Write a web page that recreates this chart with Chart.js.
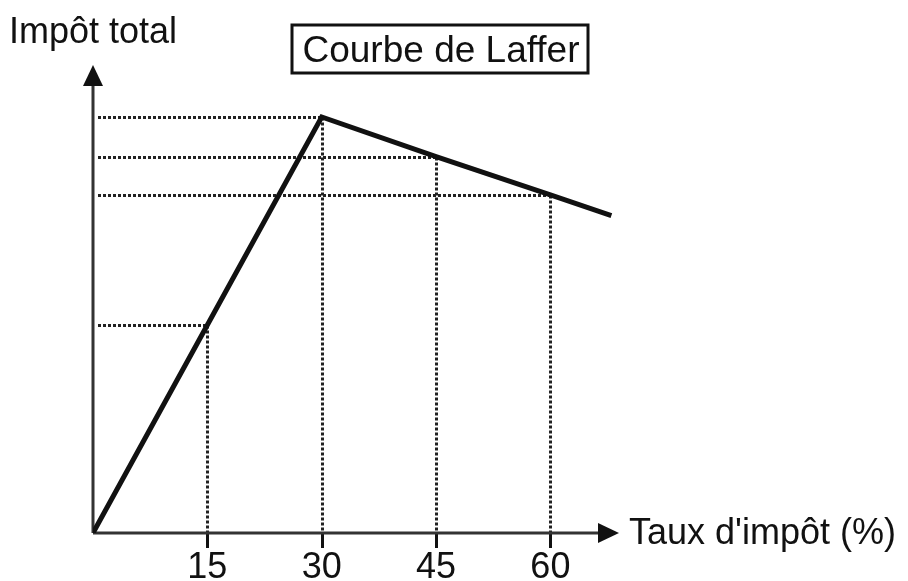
<!DOCTYPE html>
<html>
<head>
<meta charset="utf-8">
<script src="https://cdn.jsdelivr.net/npm/chart.js@4"></script>
<style>
  body { margin: 0; background: #fff; }
  #laffer { display: block; }
</style>
</head>
<body>
<canvas id="laffer" width="908" height="581"></canvas>
<script>
// donnees de la courbe
var tauxImpot = [0, 15, 30, 45, 60, 68];
var impotTotal = [0, 50, 100, 90.5, 81.3, 76.3];
var tauxTicks = [15, 30, 45, 60];
var tauxLabels = ['15', '30', '45', '60'];

var titre = 'Courbe de Laffer';
var titreAxeY = 'Impôt total';
var titreAxeX = "Taux d'impôt (%)";

var police = '"Liberation Sans", Arial, sans-serif';

var axesLaffer = {
    id: 'axesLaffer',
    beforeDatasetsDraw: function (chart) {
        var ctx = chart.ctx;
        var sx = chart.scales.x, sy = chart.scales.y;
        var x0 = sx.getPixelForValue(0), y0 = sy.getPixelForValue(0);
        var top = chart.chartArea.top, right = chart.chartArea.right;

        ctx.save();
        // lignes pointillees vers les axes
        ctx.strokeStyle = '#222';
        ctx.lineWidth = 3;
        ctx.setLineDash([3, 2]);
        for (var i = 0; i < tauxTicks.length; i++) {
            var idx = tauxImpot.indexOf(tauxTicks[i]);
            var px = Math.round(sx.getPixelForValue(tauxTicks[i])) + 0.5;
            var py = Math.round(sy.getPixelForValue(impotTotal[idx])) + 0.5;
            ctx.beginPath();
            ctx.moveTo(Math.round(x0) + 5, py);
            ctx.lineTo(px, py);
            ctx.stroke();
            ctx.beginPath();
            ctx.moveTo(px, py);
            ctx.lineTo(px, y0);
            ctx.stroke();
        }
        ctx.setLineDash([]);

        // petits traits sous l'axe
        ctx.lineWidth = 3;
        ctx.strokeStyle = '#111';
        for (var j = 0; j < tauxTicks.length; j++) {
            var tx = Math.round(sx.getPixelForValue(tauxTicks[j])) + 0.5;
            ctx.beginPath();
            ctx.moveTo(tx, y0);
            ctx.lineTo(tx, y0 + 15);
            ctx.stroke();
        }

        // axes
        ctx.strokeStyle = '#333';
        ctx.lineWidth = 3;
        ctx.beginPath();
        ctx.moveTo(x0, y0);
        ctx.lineTo(x0, top + 18);
        ctx.moveTo(x0, y0);
        ctx.lineTo(right - 18, y0);
        ctx.stroke();

        // fleches
        ctx.fillStyle = '#111';
        ctx.beginPath();
        ctx.moveTo(x0, top);
        ctx.lineTo(x0 - 10, top + 21);
        ctx.lineTo(x0 + 10, top + 21);
        ctx.closePath();
        ctx.fill();
        ctx.beginPath();
        ctx.moveTo(right, y0);
        ctx.lineTo(right - 21, y0 - 10);
        ctx.lineTo(right - 21, y0 + 10);
        ctx.closePath();
        ctx.fill();
        ctx.restore();
    },
    afterDraw: function (chart) {
        var ctx = chart.ctx;
        var sx = chart.scales.x, sy = chart.scales.y;
        var y0 = sy.getPixelForValue(0);

        ctx.save();
        ctx.fillStyle = '#111';
        ctx.font = '36px ' + police;
        ctx.textBaseline = 'alphabetic';

        ctx.textAlign = 'center';
        for (var i = 0; i < tauxTicks.length; i++) {
            ctx.fillText(tauxLabels[i], sx.getPixelForValue(tauxTicks[i]), 578);
        }

        ctx.textAlign = 'left';
        ctx.fillText(titreAxeY, 9, 43);
        ctx.fillText(titreAxeX, chart.chartArea.right + 10, y0 + 11);

        // titre encadre
        ctx.strokeStyle = '#111';
        ctx.lineWidth = 3;
        ctx.strokeRect(292, 25, 296, 48);
        ctx.font = '37px ' + police;
        ctx.textAlign = 'center';
        ctx.fillText(titre, 441, 62);
        ctx.restore();
    }
};

var pontos = tauxImpot.map(function (t, i) {
    return { x: t, y: impotTotal[i] };
});

new Chart(document.getElementById('laffer'), {
    type: 'scatter',
    data: {
        datasets: [{
            data: pontos,
            showLine: true,
            borderColor: '#111',
            borderWidth: 5,
            borderJoinStyle: 'miter',
            pointRadius: 0,
            tension: 0
        }]
    },
    options: {
        responsive: false,
        animation: false,
        layout: { padding: { left: 93, right: 289, top: 65, bottom: 48 } },
        plugins: { legend: { display: false }, tooltip: { enabled: false } },
        scales: {
            x: { type: 'linear', min: 0, max: 69, display: false },
            y: { type: 'linear', min: 0, max: 112.5, display: false }
        }
    },
    plugins: [axesLaffer]
});
</script>
</body>
</html>
